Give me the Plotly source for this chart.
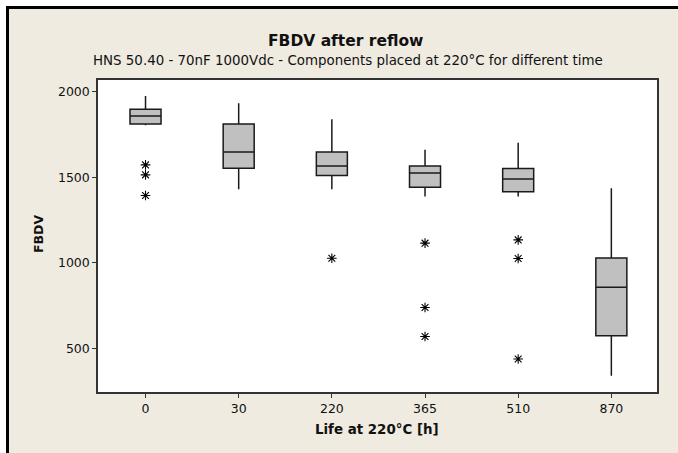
import plotly.graph_objects as go

categories = ["0", "30", "220", "365", "510", "870"]
q1 = [1811, 1553, 1510, 1442, 1415, 574]
median = [1858, 1648, 1566, 1525, 1490, 858]
q3 = [1897, 1811, 1648, 1565, 1551, 1028]
lower_whisker = [1804, 1430, 1430, 1387, 1387, 340]
upper_whisker = [1975, 1932, 1839, 1660, 1702, 1436]

outlier_cats = ["0", "0", "0", "220", "365", "365", "365", "510", "510", "510"]
outlier_vals = [1572, 1514, 1393, 1027, 1115, 739, 570, 1134, 1025, 438]

y_ticks = [500, 1000, 1500, 2000]

W, H = 678, 453
ML, MR, MT, MB = 98, 21, 80, 61
PW, PH = W - ML - MR, H - MT - MB

def px(x):
    return (x - ML) / PW

def py(y):
    return (H - MB - y) / PH

FONT = "DejaVu Sans"

fig = go.Figure()
fig.add_trace(go.Box(
    x=categories, q1=q1, median=median, q3=q3,
    lowerfence=lower_whisker, upperfence=upper_whisker,
    boxpoints=False, width=0.333, whiskerwidth=0,
    fillcolor="#C0C0C0", line=dict(color="#1a1a1a", width=1.5),
    showlegend=False, hoverinfo="skip",
))
fig.add_trace(go.Scatter(
    x=outlier_cats, y=outlier_vals, mode="markers",
    marker=dict(symbol="asterisk-open", size=8, color="black",
                line=dict(color="black", width=1.1)),
    showlegend=False, hoverinfo="skip",
))

fig.update_layout(
    width=W, height=H,
    margin=dict(l=ML, r=MR, t=MT, b=MB, pad=0),
    paper_bgcolor="white", plot_bgcolor="white",
    font=dict(family=FONT, size=12, color="#111"),
    xaxis=dict(type="category", categoryorder="array", categoryarray=categories,
               range=[-0.51, 5.49], showgrid=False, zeroline=False,
               showline=True, linecolor="#333", linewidth=1.5, mirror=True,
               ticks="outside", ticklen=4, tickcolor="#333", tickwidth=1,
               tickfont=dict(size=12.5, family=FONT, color="#111")),
    yaxis=dict(range=[245.5, 2068], tickvals=y_ticks, showgrid=False, zeroline=False,
               showline=True, linecolor="#333", linewidth=1.5, mirror=True,
               ticks="outside", ticklen=4, tickcolor="#333", tickwidth=1,
               tickfont=dict(size=12.5, family=FONT, color="#111")),
    shapes=[
        dict(type="rect", xref="paper", yref="paper", layer="below",
             x0=px(6), x1=px(W + 5), y0=py(H + 5), y1=py(6),
             fillcolor="#EFEBE1", line=dict(width=0)),
        dict(type="rect", xref="paper", yref="paper", layer="below",
             x0=0, x1=1, y0=0, y1=1,
             fillcolor="white", line=dict(width=0)),
        dict(type="line", xref="paper", yref="paper", layer="above",
             x0=px(7.5), x1=px(W + 5), y0=py(7.5), y1=py(7.5),
             line=dict(color="black", width=3)),
        dict(type="line", xref="paper", yref="paper", layer="above",
             x0=px(7.5), x1=px(7.5), y0=py(H + 5), y1=py(6),
             line=dict(color="black", width=3)),
    ],
    annotations=[
        dict(text="<b>FBDV after reflow</b>", xref="paper", yref="paper",
             x=px(345), y=py(40.5), showarrow=False, xanchor="center", yanchor="middle",
             font=dict(size=15.5, family=FONT, color="#111")),
        dict(text="HNS 50.40 - 70nF 1000Vdc - Components placed at 220°C for different time",
             xref="paper", yref="paper", x=px(347.5), y=py(60), showarrow=False,
             xanchor="center", yanchor="middle",
             font=dict(size=13.4, family=FONT, color="#111")),
        dict(text="<b>Life at 220°C [h]</b>", xref="paper", yref="paper",
             x=px(377), y=py(429), showarrow=False, xanchor="center", yanchor="middle",
             font=dict(size=13.4, family=FONT, color="#111")),
        dict(text="<b>FBDV</b>", xref="paper", yref="paper", textangle=-90,
             x=px(38), y=py(234), showarrow=False, xanchor="center", yanchor="middle",
             font=dict(size=12.5, family=FONT, color="#111")),
    ],
)

fig.write_html("out.html")
